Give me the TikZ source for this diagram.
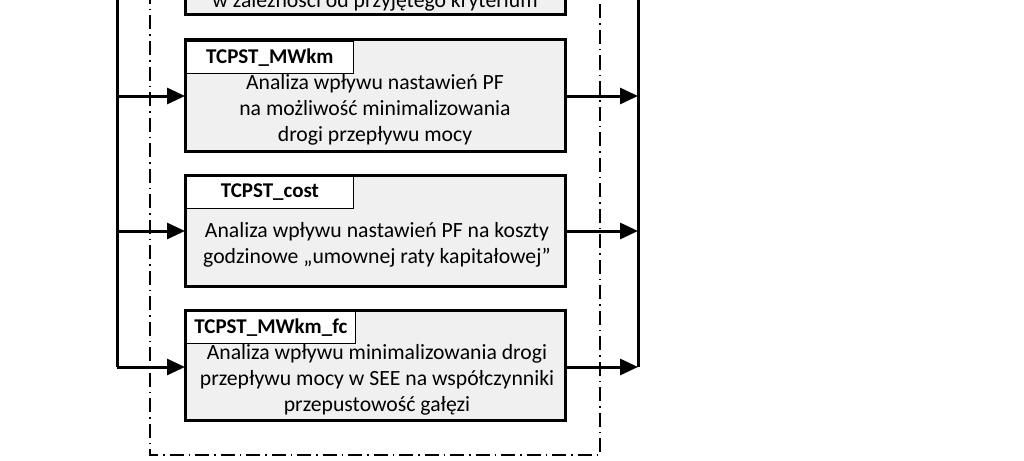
\documentclass[tikz,border=0pt]{standalone}
\usepackage{fontspec}
\setmainfont{Carlito}
\usetikzlibrary{arrows.meta}
\begin{document}
\begin{tikzpicture}[x=1pt,y=-1pt,
  mainbox/.style={draw,line width=3pt,fill=black!6},
  tagbox/.style={draw,line width=0.8pt,fill=white,font=\bfseries\fontsize{21}{24}\selectfont,inner sep=0pt},
  body/.style={align=center,font=\fontsize{21.7}{26}\selectfont,inner sep=0pt},
  bus/.style={line width=3pt},
  arr/.style={line width=3pt,-{Triangle[length=18pt,width=16pt]}},
  frame/.style={line width=1.5pt,dash pattern=on 14pt off 5pt on 1.5pt off 5pt}]
\useasboundingbox (0,0) rectangle (1024,460);
\clip (0,0) rectangle (1024,460);
\fill[white] (0,0) rectangle (1024,460);
% dash-dot frame
\draw[frame] (150,-10) -- (150,455) -- (600,455) -- (600,-10);
% top partial box
\draw[mainbox] (185,-40) rectangle (565,15);
\node[body] (t1) at (375,2) {w zależności od przyjętego kryterium};
% box 2
\draw[mainbox] (185,40) rectangle (565,151);
\node[tagbox,minimum width=167pt,minimum height=32pt,anchor=north west] (l2) at (186,41) {TCPST\_MWkm};
\node[body] (b2) at (375,110) {Analiza wpływu nastawień PF\\na możliwość minimalizowania\\drogi przepływu mocy};
% box 3
\draw[mainbox] (185,175) rectangle (565,286);
\node[tagbox,minimum width=167pt,minimum height=32pt,anchor=north west] (l3) at (186,176) {TCPST\_cost};
\node[body] (b3) at (377,245) {Analiza wpływu nastawień PF na koszty\\godzinowe „umownej raty kapitałowej”};
% box 4
\draw[mainbox] (185,310) rectangle (565,420);
\node[tagbox,minimum width=169pt,minimum height=32pt,anchor=north west] (l4) at (186,311) {TCPST\_MWkm\_fc};
\node[body] (b4) at (377,380) {Analiza wpływu minimalizowania drogi\\przepływu mocy w SEE na współczynniki\\przepustowość gałęzi};
% coordinates
\coordinate (lt) at (117,-10); \coordinate (lb) at (117,367);
\coordinate (rt) at (638,-10); \coordinate (rb) at (638,367);
\draw[bus] (lt) -- (lb);
\draw[bus] (rt) -- (rb);
\foreach \y in {96,231,367}{
  \coordinate (li) at (117,\y); \coordinate (lo) at (185,\y);
  \coordinate (ri) at (565,\y); \coordinate (ro) at (638,\y);
  \draw[arr] (li) -- (lo);
  \draw[arr] (ri) -- (ro);
}
\end{tikzpicture}
\end{document}
